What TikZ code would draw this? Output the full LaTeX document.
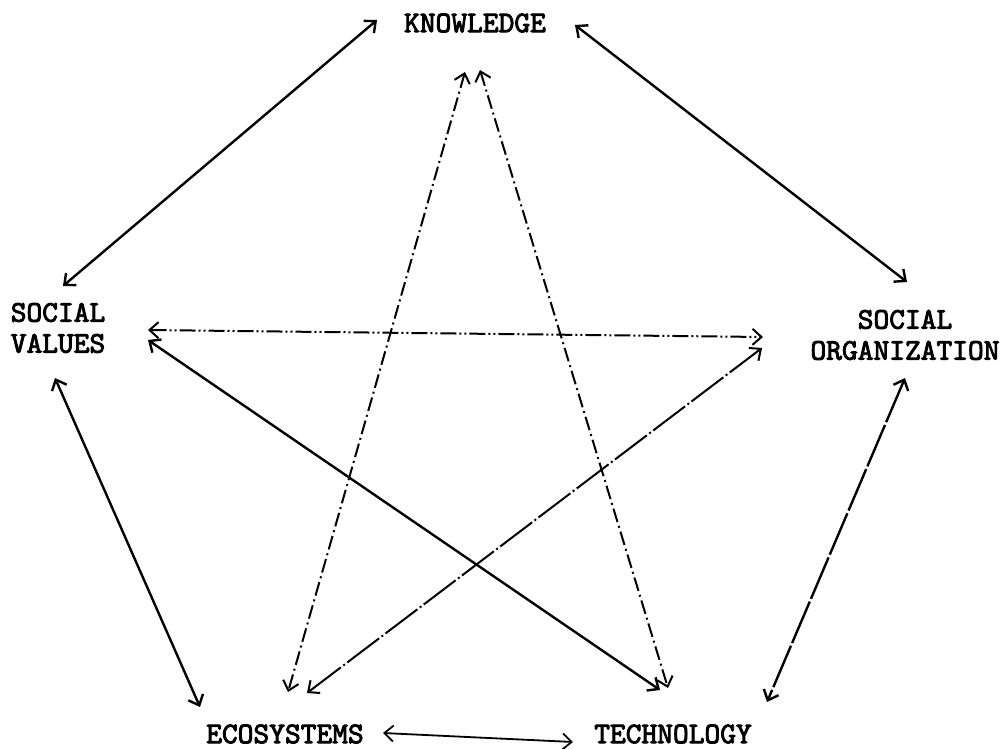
\documentclass[tikz,border=0pt]{standalone}
\usepackage{fontspec}
\newfontfamily\twfont{lmmono10-regular.otf}[FakeBold=3]
\usetikzlibrary{arrows.meta}
\begin{document}
\begin{tikzpicture}[x=1pt,y=-1pt,
  lbl/.style={inner sep=0pt, font=\fontsize{30}{31}\selectfont\twfont},
  conn/.style={line width=2.4pt, {Straight Barb[length=9pt,width=16pt]}-{Straight Barb[length=9pt,width=16pt]}},
  dashdot/.style={conn, line width=2pt, dash pattern=on 14pt off 4pt on 2pt off 4pt},
  dashdotdot/.style={conn, line width=2pt, dash pattern=on 16pt off 3pt on 2pt off 3pt on 2pt off 3pt},
  gappy/.style={conn, dash pattern=on 45pt off 3pt}]
\useasboundingbox (0,0) rectangle (1002,749);
\node[lbl] (k) at (475,23) {KNOWLEDGE};
\node[lbl, align=left] (sv) at (58,328) {SOCIAL\\VALUES};
\node[lbl, align=center] (so) at (905,335) {SOCIAL\\ORGANIZATION};
\node[lbl] (eco) at (285,734) {ECOSYSTEMS};
\node[lbl] (tech) at (673,734) {TECHNOLOGY};
% outer pentagon
\draw[conn] ([shift={(5,-42)}]sv.center) -- ([shift={(-98,-3)}]k.center);
\draw[conn] ([shift={(100,2)}]k.center) -- ([shift={(2,-53)}]so.center);
\draw[conn] ([shift={(-3,50)}]sv.center) -- ([shift={(-85,-27)}]eco.center);
\draw[conn, line width=1.8pt] ([shift={(98,-1)}]eco.center) -- ([shift={(-100,8)}]tech.center);
\draw[gappy] ([shift={(0,43)}]so.center) -- ([shift={(94,-32)}]tech.center);
% inner star
\draw[dashdotdot] ([shift={(90,2)}]sv.center) -- ([shift={(-142,2)}]so.center);
\draw[conn] ([shift={(90,12)}]sv.center) -- ([shift={(-13,-44)}]tech.center);
\draw[dashdot] ([shift={(-10,49)}]k.center) -- ([shift={(3,-42)}]eco.center);
\draw[dashdot] ([shift={(5,47)}]k.center) -- ([shift={(-5,-46)}]tech.center);
\draw[dashdot, dash pattern=on 40pt off 3pt on 2pt off 3pt] ([shift={(22,-41)}]eco.center) -- ([shift={(-143,13)}]so.center);
\end{tikzpicture}
\end{document}
